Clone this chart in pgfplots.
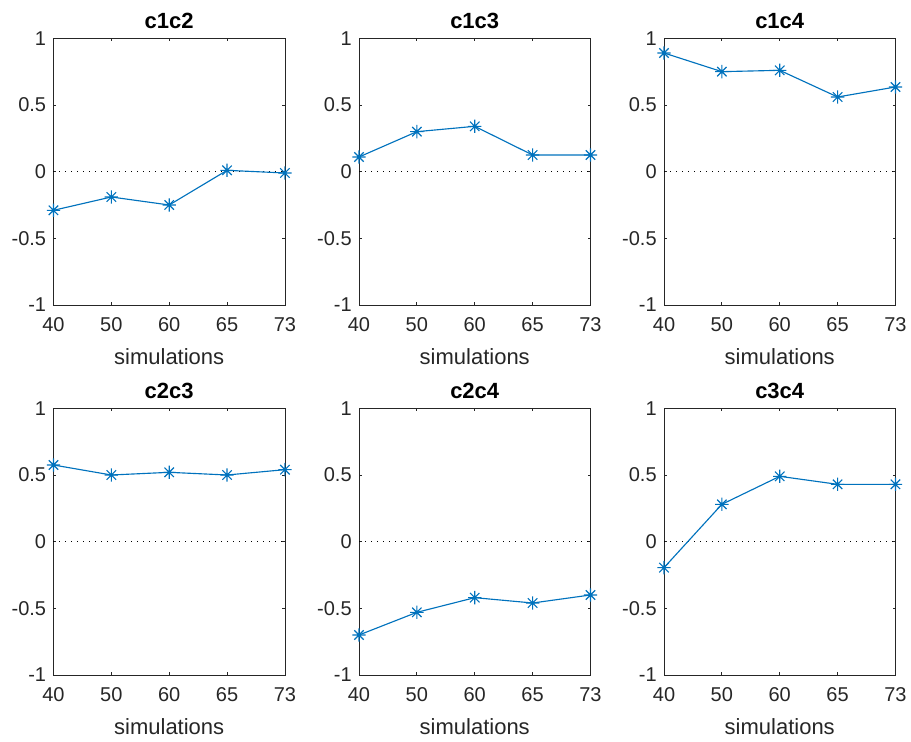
\documentclass[border=0pt]{standalone}
\usepackage{pgfplots}
\pgfplotsset{compat=1.18}
\usepackage{fontspec}
\setmainfont{Liberation Sans}

\definecolor{mblue}{RGB}{0,114,189}
\definecolor{axgray}{RGB}{38,38,38}

% eight-armed asterisk marker (plus and cross combined)
\pgfdeclareplotmark{mast}{%
  \pgfpathmoveto{\pgfqpoint{-\pgfplotmarksize}{0pt}}%
  \pgfpathlineto{\pgfqpoint{\pgfplotmarksize}{0pt}}%
  \pgfpathmoveto{\pgfqpoint{0pt}{-\pgfplotmarksize}}%
  \pgfpathlineto{\pgfqpoint{0pt}{\pgfplotmarksize}}%
  \pgfpathmoveto{\pgfqpoint{-0.707\pgfplotmarksize}{-0.707\pgfplotmarksize}}%
  \pgfpathlineto{\pgfqpoint{0.707\pgfplotmarksize}{0.707\pgfplotmarksize}}%
  \pgfpathmoveto{\pgfqpoint{-0.707\pgfplotmarksize}{0.707\pgfplotmarksize}}%
  \pgfpathlineto{\pgfqpoint{0.707\pgfplotmarksize}{-0.707\pgfplotmarksize}}%
  \pgfusepathqstroke}

\pgfplotsset{
  panel/.style={
    scale only axis,
    width=173.6pt, height=200pt,
    anchor=south west,
    xmin=0, xmax=4, ymin=-1, ymax=1,
    xtick={0,1,2,3,4},
    xticklabels={40,50,60,65,73},
    ytick={-1,-0.5,0,0.5,1},
    yticklabels={-1,-0.5,0,0.5,1},
    tick align=inside,
    major tick length=2.2pt,
    axis line style={axgray, line width=0.6pt},
    every tick/.style={axgray, line width=0.6pt},
    tick label style={font=\fontsize{15}{18}\selectfont, text=axgray},
    yticklabel style={xshift=-2pt},
    xticklabel style={yshift=-6pt},
    xlabel={simulations},
    xlabel style={font=\fontsize{16.5}{19}\selectfont, text=axgray, yshift=-6pt},
    title style={font=\fontsize{16.5}{19}\selectfont\bfseries, yshift=-2pt},
    clip=false,
  },
  series/.style={mblue, line width=0.85pt, mark=mast, mark size=5pt,
    mark options={line width=0.85pt}},
  zeroline/.style={black, line width=0.6pt, dash pattern=on 0.75pt off 3.75pt},
}

\begin{document}
\begin{tikzpicture}

\begin{axis}[panel, at={(40.1pt,327.75pt)}, title={c1c2}]
  \addplot[zeroline] coordinates {(0,0) (4,0)};
  \addplot[series] coordinates {(0,-0.29) (1,-0.19) (2,-0.25) (3,0.01) (4,-0.01)};
\end{axis}

\begin{axis}[panel, at={(269.25pt,327.75pt)}, title={c1c3}]
  \addplot[zeroline] coordinates {(0,0) (4,0)};
  \addplot[series] coordinates {(0,0.11) (1,0.30) (2,0.34) (3,0.125) (4,0.125)};
\end{axis}

\begin{axis}[panel, at={(498pt,327.75pt)}, title={c1c4}]
  \addplot[zeroline] coordinates {(0,0) (4,0)};
  \addplot[series] coordinates {(0,0.89) (1,0.75) (2,0.76) (3,0.56) (4,0.635)};
\end{axis}

\begin{axis}[panel, at={(40.1pt,50.25pt)}, title={c2c3}]
  \addplot[zeroline] coordinates {(0,0) (4,0)};
  \addplot[series] coordinates {(0,0.575) (1,0.50) (2,0.52) (3,0.50) (4,0.54)};
\end{axis}

\begin{axis}[panel, at={(269.25pt,50.25pt)}, title={c2c4}]
  \addplot[zeroline] coordinates {(0,0) (4,0)};
  \addplot[series] coordinates {(0,-0.70) (1,-0.53) (2,-0.42) (3,-0.46) (4,-0.40)};
\end{axis}

\begin{axis}[panel, at={(498pt,50.25pt)}, title={c3c4}]
  \addplot[zeroline] coordinates {(0,0) (4,0)};
  \addplot[series] coordinates {(0,-0.195) (1,0.28) (2,0.49) (3,0.43) (4,0.43)};
\end{axis}

\pgfresetboundingbox
\path[use as bounding box] (0pt,0pt) rectangle (683.25pt,556.5pt);
\end{tikzpicture}
\end{document}
